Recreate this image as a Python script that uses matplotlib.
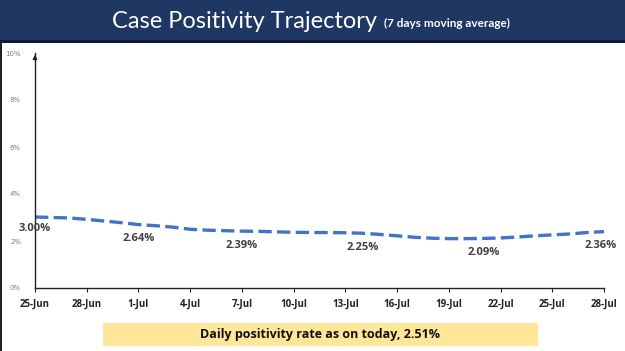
import matplotlib
matplotlib.use("Agg")
import matplotlib.pyplot as plt
from matplotlib.patches import Rectangle
import numpy as np

dates = ["25-Jun","26-Jun","27-Jun","28-Jun","29-Jun","30-Jun","1-Jul","2-Jul","3-Jul","4-Jul",
         "5-Jul","6-Jul","7-Jul","8-Jul","9-Jul","10-Jul","11-Jul","12-Jul","13-Jul","14-Jul",
         "15-Jul","16-Jul","17-Jul","18-Jul","19-Jul","20-Jul","21-Jul","22-Jul","23-Jul","24-Jul",
         "25-Jul","26-Jul","27-Jul","28-Jul"]
positivity = [3.02, 3.00, 2.98, 2.92, 2.85, 2.78, 2.70, 2.65, 2.59, 2.50,
              2.46, 2.44, 2.42, 2.41, 2.39, 2.37, 2.36, 2.36, 2.35, 2.33,
              2.28, 2.22, 2.16, 2.12, 2.10, 2.10, 2.11, 2.13, 2.17, 2.22,
              2.26, 2.30, 2.36, 2.40]
label_dates = ["25-Jun", "1-Jul", "7-Jul", "14-Jul", "21-Jul", "28-Jul"]
label_texts = ["3.00%", "2.64%", "2.39%", "2.25%", "2.09%", "2.36%"]
tick_dates = ["25-Jun","28-Jun","1-Jul","4-Jul","7-Jul","10-Jul","13-Jul","16-Jul","19-Jul","22-Jul","25-Jul","28-Jul"]
y_ticks = [0, 2, 4, 6, 8, 10]
title = "Case Positivity Trajectory"
subtitle = "(7 days moving average)"
footer = "Daily positivity rate as on today, 2.51%"

W, H = 625, 351
fig = plt.figure(figsize=(W/100, H/100), dpi=100)
fig.patch.set_facecolor("white")

# header band
fig.add_artist(Rectangle((0, 1-40/H), 1, 40/H, transform=fig.transFigure, facecolor="#1F3763", edgecolor="none"))
fig.add_artist(Rectangle((0, 1-43/H), 1, 3/H, transform=fig.transFigure, facecolor="#0E1B33", edgecolor="none"))
# left border line
fig.add_artist(Rectangle((0, 0), 2/W, 1-43/H, transform=fig.transFigure, facecolor="#222222", edgecolor="none"))

fig.text(112/W, 1-21/H, title, color="white", fontsize=17, family="Lato", va="center", ha="left")
fig.text(384/W, 1-23/H, subtitle, color="white", fontsize=8.5, family="Lato", fontweight="bold", va="center", ha="left")

ax = fig.add_axes([35/W, 1-288/H, (604-35)/W, (288-53)/H])
x = np.arange(len(dates))
ax.plot(x, positivity, color="#4472C4", lw=2.4, dashes=(4, 1.6), solid_capstyle="butt")

idx = {d: i for i, d in enumerate(dates)}
last = len(dates) - 1
for d, t in zip(label_dates, label_texts):
    i = idx[d]
    if i == 0:
        ax.annotate(t, (i, positivity[i]), xytext=(0, -8), textcoords="offset points",
                    ha="center", va="center", fontsize=8, fontweight="bold", color="#404040",
                    family="Open Sans", annotation_clip=False)
    elif i == last:
        ax.annotate(t, (i, positivity[i]), xytext=(-14, -10), textcoords="offset points",
                    ha="left", va="center", fontsize=8, fontweight="bold", color="#404040",
                    family="Open Sans", annotation_clip=False)
    else:
        ax.annotate(t, (i, positivity[i]), xytext=(0, -10), textcoords="offset points",
                    ha="center", va="center", fontsize=8, fontweight="bold", color="#404040",
                    family="Open Sans")

ax.set_xlim(0, last)
ax.set_ylim(0, 10)
ax.set_xticks([idx[d] for d in tick_dates])
ax.set_xticklabels(tick_dates, fontsize=7, fontweight="bold", color="#222222", family="Open Sans")
ax.set_yticks(y_ticks)
ax.set_yticklabels([f"{v}%" for v in y_ticks], fontsize=5, color="#808080")
ax.tick_params(axis="x", direction="out", length=3, width=0.8, color="#222222", pad=5)
ax.tick_params(axis="y", length=0, pad=10)
for s in ["top", "right"]:
    ax.spines[s].set_visible(False)
ax.spines["left"].set_color("#222222")
ax.spines["bottom"].set_color("#222222")
ax.spines["left"].set_linewidth(1.0)
ax.spines["bottom"].set_linewidth(1.0)
ax.annotate("", xy=(0, 10.05), xytext=(0, 9.6), xycoords="data",
            arrowprops=dict(arrowstyle="-|>", color="#222222", lw=1.0, mutation_scale=6), annotation_clip=False)

# footer box
fig.add_artist(Rectangle((103/W, 1-346/H), (538-103)/W, 23/H, transform=fig.transFigure,
                         facecolor="#FFE699", edgecolor="none"))
fig.text(320/W, 1-334.5/H, footer, ha="center", va="center", fontsize=9, fontweight="bold",
         color="#111111", family="Open Sans")

fig.savefig("out.png", dpi=100)
